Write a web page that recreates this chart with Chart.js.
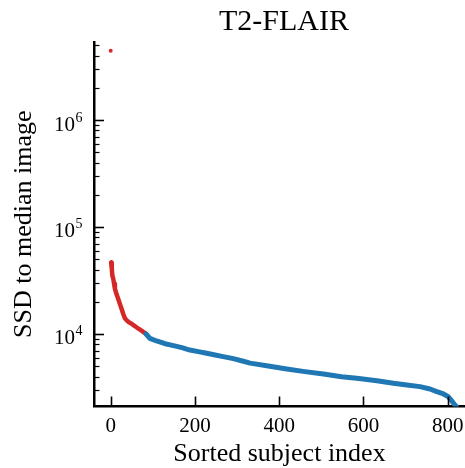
<!DOCTYPE html>
<html>
<head>
<meta charset="utf-8">
<script src="https://cdn.jsdelivr.net/npm/chart.js@4"></script>
<style>
  html, body { margin: 0; padding: 0; background: #fff; }
  #chart { display: block; }
</style>
</head>
<body>
<canvas id="chart" width="465" height="468"></canvas>
<script>
const titleText = 'T2-FLAIR';
const xTickValues = [0, 200, 400, 600, 800];
const yDecades = [1e4, 1e5, 1e6];

// index 0 sits far above everything else
const outlierIndex = [0];
const outlierSSD = [4450000];

// flagged subjects (red)
const redIndex = [1, 2, 3, 4, 6, 8, 10, 14, 18, 22, 26, 30, 34, 38, 42, 46, 50, 58, 66, 74, 84];
const redSSD = [46500, 43500, 41500, 35000, 33000, 29500, 26500, 23500, 21200, 19000, 17100, 15300, 14000, 13400, 13000, 12700, 12400, 11800, 11200, 10700, 10000];

// remaining subjects (blue)
const blueIndex = [84, 93, 109, 129, 149, 169, 188, 208, 228, 248, 267, 291, 315, 331, 374, 418, 461, 505, 548, 584, 632, 671, 703, 734, 758, 774, 790, 801, 809, 817, 821];
const blueSSD = [10000, 9110, 8600, 8110, 7790, 7450, 7080, 6840, 6600, 6370, 6140, 5880, 5560, 5340, 5020, 4710, 4450, 4230, 3990, 3850, 3660, 3460, 3330, 3220, 3060, 2890, 2750, 2600, 2380, 2170, 2090];

const FONT = "'Liberation Serif', 'Times New Roman', serif";
const pts = (xs, ys) => xs.map((x, i) => ({ x: x, y: ys[i] }));

// inward tick marks, log tick labels and title
const decorations = {
    id: 'decorations',
    afterDraw(chart) {
        const { ctx, chartArea, scales: { x, y } } = chart;
        ctx.save();
        ctx.strokeStyle = '#000';

        // x ticks
        ctx.lineWidth = 1.6;
        xTickValues.forEach(v => {
            const px = Math.round(x.getPixelForValue(v)) + 0.5;
            ctx.beginPath();
            ctx.moveTo(px, chartArea.bottom);
            ctx.lineTo(px, chartArea.bottom - 10);
            ctx.stroke();
        });

        // y ticks, major + minor
        for (let e = 3; e <= 6; e++) {
            for (let m = 1; m <= 9; m++) {
                const v = m * Math.pow(10, e);
                if (v < y.min || v > y.max) continue;
                const py = Math.round(y.getPixelForValue(v)) + 0.5;
                ctx.lineWidth = m === 1 ? 1.6 : 1.2;
                ctx.beginPath();
                ctx.moveTo(chartArea.left, py);
                ctx.lineTo(chartArea.left + (m === 1 ? 10 : 5.5), py);
                ctx.stroke();
            }
        }

        // y labels as 10^n
        ctx.fillStyle = '#000';
        ctx.textAlign = 'right';
        ctx.textBaseline = 'alphabetic';
        yDecades.forEach(v => {
            const py = y.getPixelForValue(v);
            const exp = String(Math.round(Math.log10(v)));
            ctx.font = '14px ' + FONT;
            const ew = ctx.measureText(exp).width;
            ctx.fillText(exp, 82.5, py + 1.5);
            ctx.font = '21px ' + FONT;
            ctx.fillText('10', 82.5 - ew - 0.5, py + 10.5);
        });

        // title
        ctx.font = '30px ' + FONT;
        ctx.textAlign = 'center';
        ctx.fillText(titleText, 284, 30);
        ctx.restore();
    }
};

new Chart(document.getElementById('chart'), {
    type: 'scatter',
    data: {
        datasets: [
            {
                data: pts(blueIndex, blueSSD),
                showLine: true,
                borderColor: '#1f77b4',
                borderWidth: 5,
                borderCapStyle: 'round',
                borderJoinStyle: 'round',
                pointRadius: 0,
                pointHoverRadius: 0
            },
            {
                data: pts(redIndex, redSSD),
                showLine: true,
                borderColor: '#d62728',
                borderWidth: 4.5,
                borderCapStyle: 'round',
                borderJoinStyle: 'round',
                pointRadius: 0,
                pointHoverRadius: 0
            },
            {
                data: pts(outlierIndex, outlierSSD),
                showLine: false,
                backgroundColor: '#d62728',
                borderWidth: 0,
                pointRadius: 2,
                pointHoverRadius: 2
            }
        ]
    },
    options: {
        responsive: false,
        animation: false,
        devicePixelRatio: 1,
        layout: { autoPadding: false, padding: { top: 42, right: 0, bottom: 0, left: 0 } },
        plugins: { legend: { display: false }, tooltip: { enabled: false } },
        scales: {
            x: {
                type: 'linear',
                min: -39.6,
                max: 841,
                bounds: 'data',
                afterBuildTicks: s => { s.ticks = xTickValues.map(v => ({ value: v })); },
                afterFit: s => { s.height = 61.5; s.paddingLeft = 0; s.paddingRight = 0; },
                grid: { display: false, drawTicks: false },
                border: { display: true, color: '#000', width: 2.5 },
                ticks: { color: '#000', font: { family: FONT, size: 21 }, padding: 7, maxRotation: 0, autoSkip: false },
                title: {
                    display: true, text: 'Sorted subject index', color: '#000',
                    font: { family: FONT, size: 26, lineHeight: 1 }, padding: { top: 0, bottom: 1 }
                }
            },
            y: {
                type: 'logarithmic',
                min: 2100,
                max: 5.36e6,
                bounds: 'data',
                afterFit: s => { s.width = 94; },
                grid: { display: false, drawTicks: false },
                border: { display: true, color: '#000', width: 2.5 },
                ticks: { display: false },
                title: {
                    display: true, text: 'SSD to median image', color: '#000',
                    font: { family: FONT, size: 26 }, padding: { top: 9, bottom: 0 }
                }
            }
        }
    },
    plugins: [decorations]
});
</script>
</body>
</html>
